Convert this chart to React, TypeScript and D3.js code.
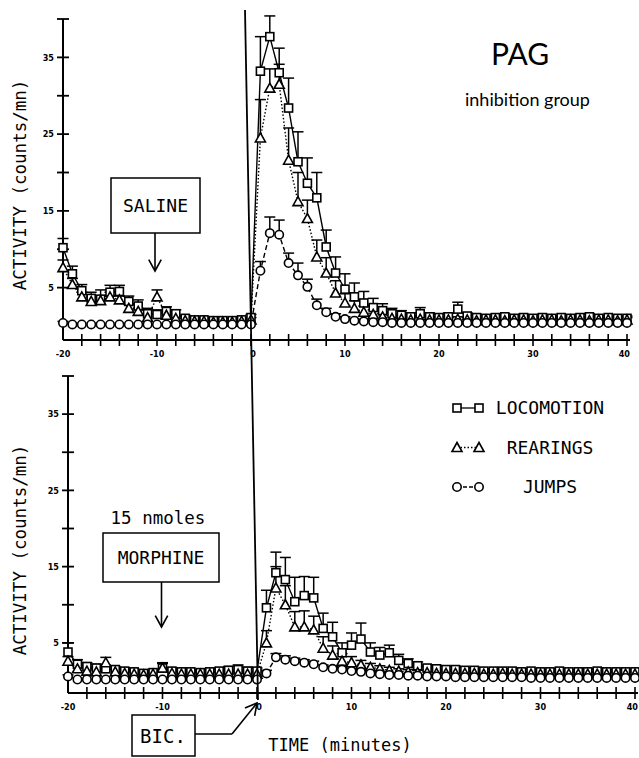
import * as d3 from 'd3'

// minutes relative to BIC injection
const minutes = [
  -20, -19, -18, -17, -16, -15, -14, -13, -12, -11, -10, -9, -8, -7, -6, -5, -4, -3, -2, -1, 0,
  1, 2, 3, 4, 5, 6, 7, 8, 9, 10, 11, 12, 13, 14, 15, 16, 17, 18, 19, 20,
  21, 22, 23, 24, 25, 26, 27, 28, 29, 30, 31, 32, 33, 34, 35, 36, 37, 38, 39, 40,
]

// ---- saline panel (top)
const salineLoco = [
  10.2, 6.8, 4.6, 3.6, 3.5, 4.4, 4.5, 3.2, 2.6, 1.6, 1.5, 1.9, 1.6, 1.0, 0.8, 0.8, 0.7, 0.7, 0.7, 0.8, 1.1,
  33.2, 37.7, 33.0, 28.4, 21.4, 18.6, 16.7, 10.3, 6.9, 4.8, 3.8, 3.0, 2.4, 2.0, 1.6, 1.4, 1.2, 1.6, 1.2, 1.1,
  1.2, 2.2, 1.3, 1.1, 1.0, 1.1, 1.2, 1.0, 1.1, 1.0, 1.1, 1.0, 1.1, 1.0, 1.1, 1.2, 1.0, 1.1, 1.0, 1.0,
]
const salineLocoErr = [
  1.2, 1.0, 0.8, 0.8, 1.2, 0.9, 0.8, 0.7, 0.8, 0.7, 0.6, 0.6, 0.5, 0.4, 0.3, 0.3, 0.3, 0.3, 0.3, 0.3, 0.4,
  4.5, 2.7, 3.2, 3.9, 3.9, 3.3, 3.3, 2.2, 2.1, 2.0, 1.8, 1.5, 1.2, 0.9, 0.7, 0.6, 0.5, 0.8, 0.5, 0.4,
  0.5, 0.9, 0.4, 0.4, 0.3, 0.4, 0.4, 0.3, 0.4, 0.3, 0.4, 0.3, 0.3, 0.3, 0.4, 0.4, 0.3, 0.3, 0.3, 0.3,
]
const salineRear = [
  7.6, 5.4, 3.8, 3.2, 3.3, 3.8, 3.4, 2.3, 1.9, 1.1, 3.8, 1.4, 1.0, 0.7, 0.6, 0.6, 0.5, 0.5, 0.5, 0.6, 0.8,
  24.5, 31.0, 31.5, 21.6, 16.2, 14.0, 9.0, 6.9, 4.3, 3.0, 2.3, 1.8, 1.5, 1.2, 1.0, 0.9, 0.8, 0.9, 0.8, 0.8,
  0.8, 0.9, 0.8, 0.7, 0.8, 0.8, 0.7, 0.8, 0.8, 0.7, 0.8, 0.8, 0.7, 0.8, 0.8, 0.7, 0.8, 0.8, 0.7, 0.8,
]
const salineRearErr = [
  1.0, 0.8, 0.6, 0.6, 0.6, 0.6, 0.5, 0.5, 0.4, 0.4, 0.9, 0.4, 0.3, 0.3, 0.2, 0.2, 0.2, 0.2, 0.2, 0.2, 0.3,
  5.0, 2.5, 2.6, 4.2, 3.8, 2.4, 2.2, 2.0, 1.6, 1.2, 1.0, 0.8, 0.6, 0.4, 0.4, 0.3, 0.3, 0.3, 0.3, 0.3,
  0.3, 0.3, 0.3, 0.3, 0.3, 0.3, 0.3, 0.3, 0.3, 0.3, 0.3, 0.3, 0.3, 0.3, 0.3, 0.3, 0.3, 0.3, 0.3, 0.3,
]
const salineJump = [
  0.4, 0.2, 0.2, 0.2, 0.2, 0.2, 0.2, 0.2, 0.2, 0.2, 0.2, 0.2, 0.2, 0.2, 0.2, 0.2, 0.2, 0.2, 0.2, 0.2, 0.2,
  7.2, 12.1, 11.9, 8.2, 6.6, 5.1, 2.7, 1.8, 1.2, 0.9, 0.7, 0.6, 0.5, 0.5, 0.4, 0.4, 0.4, 0.4, 0.4, 0.4,
  0.4, 0.4, 0.4, 0.4, 0.4, 0.4, 0.4, 0.4, 0.4, 0.4, 0.4, 0.4, 0.4, 0.4, 0.4, 0.4, 0.4, 0.4, 0.4, 0.4,
]
const salineJumpErr = [
  0.2, 0, 0, 0, 0, 0, 0, 0, 0, 0, 0, 0, 0, 0, 0, 0, 0, 0, 0, 0, 0,
  1.2, 2.1, 1.9, 1.3, 1.6, 1.0, 0.8, 0.5, 0.4, 0.3, 0.2, 0.2, 0.2, 0.2, 0, 0, 0, 0, 0, 0,
  0, 0, 0, 0, 0, 0, 0, 0, 0, 0, 0, 0, 0, 0, 0, 0, 0, 0, 0, 0,
]

// ---- morphine panel (bottom)
const morphLoco = [
  3.8, 2.2, 1.9, 1.7, 1.6, 1.5, 1.3, 1.2, 1.0, 1.1, 1.7, 1.3, 1.2, 1.2, 1.1, 1.2, 1.3, 1.4, 1.5, 1.3, 1.3,
  9.6, 14.2, 13.3, 10.4, 11.2, 10.9, 6.9, 5.8, 3.7, 4.7, 5.5, 3.8, 3.4, 3.7, 2.7, 2.3, 2.0, 1.7, 1.6, 1.5,
  1.5, 1.4, 1.4, 1.3, 1.3, 1.3, 1.3, 1.2, 1.3, 1.2, 1.2, 1.3, 1.2, 1.2, 1.2, 1.3, 1.2, 1.2, 1.2, 1.2,
]
const morphLocoErr = [
  1.2, 0.6, 0.5, 0.5, 0.4, 0.4, 0.4, 0.3, 0.3, 0.3, 0.6, 0.4, 0.3, 0.3, 0.3, 0.3, 0.4, 0.5, 0.6, 0.5, 0.4,
  2.3, 2.7, 2.9, 3.2, 2.5, 2.7, 2.0, 1.9, 1.3, 1.6, 2.1, 1.2, 1.0, 1.0, 0.8, 0.6, 0.5, 0.4, 0.4, 0.4,
  0.4, 0.4, 0.3, 0.3, 0.3, 0.3, 0.3, 0.3, 0.3, 0.3, 0.3, 0.3, 0.3, 0.3, 0.3, 0.3, 0.3, 0.3, 0.3, 0.3,
]
const morphRear = [
  2.6, 1.6, 1.3, 1.2, 2.4, 1.2, 1.0, 0.9, 0.8, 0.9, 1.7, 1.0, 0.9, 0.9, 0.9, 0.9, 0.9, 0.9, 0.9, 0.9, 0.9,
  5.0, 12.2, 10.0, 7.1, 7.1, 6.7, 4.3, 3.4, 2.6, 2.4, 2.1, 1.8, 1.6, 1.4, 1.3, 1.2, 1.1, 1.1, 1.0, 1.0,
  1.0, 1.0, 1.0, 0.9, 0.9, 1.0, 0.9, 0.9, 0.9, 0.9, 0.9, 0.9, 0.9, 0.9, 0.9, 0.9, 0.9, 0.9, 0.9, 0.9,
]
const morphRearErr = [
  0.6, 0.4, 0.4, 0.4, 0.7, 0.3, 0.3, 0.3, 0.3, 0.3, 0.7, 0.3, 0.3, 0.3, 0.3, 0.3, 0.3, 0.3, 0.3, 0.3, 0.3,
  1.6, 2.8, 2.5, 2.0, 2.1, 1.8, 1.5, 1.2, 1.0, 0.8, 0.6, 0.5, 0.4, 0.4, 0.3, 0.3, 0.3, 0.3, 0.3, 0.3,
  0.3, 0.3, 0.3, 0.3, 0.3, 0.3, 0.3, 0.3, 0.3, 0.3, 0.3, 0.3, 0.3, 0.3, 0.3, 0.3, 0.3, 0.3, 0.3, 0.3,
]
const morphJump = [
  0.6, 0.2, 0.2, 0.2, 0.2, 0.2, 0.2, 0.2, 0.2, 0.2, 0.2, 0.2, 0.2, 0.2, 0.2, 0.2, 0.2, 0.2, 0.2, 0.2, 0.2,
  1.0, 3.1, 2.8, 2.6, 2.4, 2.2, 1.8, 1.6, 1.5, 1.3, 1.2, 1.0, 0.9, 0.8, 0.8, 0.7, 0.7, 0.6, 0.6, 0.6,
  0.5, 0.5, 0.5, 0.5, 0.5, 0.5, 0.5, 0.5, 0.4, 0.4, 0.4, 0.4, 0.4, 0.4, 0.4, 0.4, 0.4, 0.4, 0.4, 0.4,
]
const morphJumpErr = [
  0.2, 0, 0, 0, 0, 0, 0, 0, 0, 0, 0, 0, 0, 0, 0, 0, 0, 0, 0, 0, 0,
  0.4, 0.5, 0.5, 0.4, 0.4, 0.4, 0.3, 0.3, 0.3, 0.3, 0.2, 0.2, 0.2, 0, 0, 0, 0, 0, 0, 0,
  0, 0, 0, 0, 0, 0, 0, 0, 0, 0, 0, 0, 0, 0, 0, 0, 0, 0, 0, 0,
]

const xTickLabels = [-20, -10, 0, 10, 20, 30, 40]
const yTickLabels = [35, 25, 15, 5]
const legendItems = ['LOCOMOTION', 'REARINGS', 'JUMPS']

const plotter = "'DejaVu Sans Mono', monospace"
const tickFont = "'DejaVu Sans Condensed', 'DejaVu Sans', sans-serif"

type Kind = 'square' | 'triangle' | 'circle'

function Marker({ kind, x, y }: { kind: Kind; x: number; y: number }) {
  if (kind === 'square') return <rect x={x - 4} y={y - 4} width={8} height={8} fill="#fff" stroke="#000" strokeWidth={1.6} />
  if (kind === 'triangle')
    return <path d={`M${x},${y - 5}L${x + 5},${y + 4}L${x - 5},${y + 4}Z`} fill="#fff" stroke="#000" strokeWidth={1.6} />
  return <circle cx={x} cy={y} r={4.2} fill="#fff" stroke="#000" strokeWidth={1.6} />
}

interface PanelProps {
  xRange: [number, number]
  yRange: [number, number]
  axisY: number
  series: { values: number[]; errs: number[]; kind: Kind; dash: string }[]
}

function Panel({ xRange, yRange, axisY, series }: PanelProps) {
  const x = d3.scaleLinear().domain([-20, 40]).range(xRange)
  const y = d3.scaleLinear().domain([0, 40]).range(yRange)
  const x0 = x(-20)
  const line = d3.line<number>().x((_, i) => x(minutes[i])).y(d => y(d))

  return (
    <g>
      {/* axes */}
      <line x1={x0} x2={x0} y1={y(40)} y2={axisY} stroke="#000" strokeWidth={2} />
      <line x1={x0} x2={x(40) + 3} y1={axisY} y2={axisY} stroke="#000" strokeWidth={2} />
      {d3.range(5, 41, 5).map(v => (
        <line key={v} x1={x0 - 6} x2={x0 + 6} y1={y(v)} y2={y(v)} stroke="#000" strokeWidth={1.8} />
      ))}
      {yTickLabels.map(v => (
        <text key={v} x={x0 - 9} y={y(v)} dy="0.35em" textAnchor="end" fontFamily={tickFont} fontWeight="bold" fontSize={9}>
          {v}
        </text>
      ))}
      {d3.range(-18, 41, 2).map(t => (
        <line key={t} x1={x(t)} x2={x(t)} y1={axisY - 6} y2={axisY + 6} stroke="#000" strokeWidth={1.6} />
      ))}
      {xTickLabels.map(t => (
        <text
          key={t}
          x={t === 40 ? x(t) + 3 : x(t) + (t === 0 ? 2 : 0)}
          y={axisY + 17}
          textAnchor={t === 40 ? 'end' : 'middle'}
          fontFamily={tickFont}
          fontWeight="bold"
          fontSize={9}
        >
          {t}
        </text>
      ))}

      {/* series */}
      {series.map((s, si) => (
        <path key={'l' + si} d={line(s.values) ?? ''} fill="none" stroke="#000" strokeWidth={1.4} strokeDasharray={s.dash} />
      ))}
      {series.map((s, si) => (
        <g key={'e' + si}>
          {s.values.map((v, i) =>
            s.errs[i] > 0 ? (
              <g key={i}>
                <line x1={x(minutes[i])} x2={x(minutes[i])} y1={y(v)} y2={y(v + s.errs[i])} stroke="#000" strokeWidth={1.5} />
                <line x1={x(minutes[i]) - 5.5} x2={x(minutes[i]) + 5.5} y1={y(v + s.errs[i])} y2={y(v + s.errs[i])} stroke="#000" strokeWidth={1.5} />
              </g>
            ) : null
          )}
        </g>
      ))}
      {series.map((s, si) => (
        <g key={'m' + si}>
          {s.values.map((v, i) => (
            <Marker key={i} kind={s.kind} x={x(minutes[i])} y={y(v)} />
          ))}
        </g>
      ))}
    </g>
  )
}

function Arrow({ x1, y1, x2, y2 }: { x1: number; y1: number; x2: number; y2: number }) {
  const a = Math.atan2(y2 - y1, x2 - x1)
  const L = 13
  const s = 0.5
  return (
    <g stroke="#000" strokeWidth={1.6} fill="none">
      <line x1={x1} y1={y1} x2={x2} y2={y2} />
      <polyline
        points={`${x2 - L * Math.cos(a - s)},${y2 - L * Math.sin(a - s)} ${x2},${y2} ${x2 - L * Math.cos(a + s)},${y2 - L * Math.sin(a + s)}`}
      />
    </g>
  )
}

export default function App() {
  const xTop = d3.scaleLinear().domain([-20, 40]).range([63, 627])
  const xBot = d3.scaleLinear().domain([-20, 40]).range([68, 635])

  const topSeries = [
    { values: salineLoco, errs: salineLocoErr, kind: 'square' as Kind, dash: 'none' },
    { values: salineRear, errs: salineRearErr, kind: 'triangle' as Kind, dash: '1.5 2' },
    { values: salineJump, errs: salineJumpErr, kind: 'circle' as Kind, dash: '5 3' },
  ]
  const botSeries = [
    { values: morphLoco, errs: morphLocoErr, kind: 'square' as Kind, dash: 'none' },
    { values: morphRear, errs: morphRearErr, kind: 'triangle' as Kind, dash: '1.5 2' },
    { values: morphJump, errs: morphJumpErr, kind: 'circle' as Kind, dash: '5 3' },
  ]
  const legendKinds: Kind[] = ['square', 'triangle', 'circle']
  const legendDash = ['none', '1.5 2', '4 2']

  return (
    <div style={{ position: 'absolute', left: 0, top: 0 }}>
      <svg width={639} height={758} style={{ display: 'block', background: '#fff' }}>
        <Panel xRange={[63, 627]} yRange={[326, 19]} axisY={340} series={topSeries} />
        <Panel xRange={[68, 635]} yRange={[681, 376]} axisY={693} series={botSeries} />

        {/* BIC injection line */}
        <line x1={xTop(0) - 6} y1={10} x2={xBot(0) + 1} y2={700} stroke="#000" strokeWidth={1.8} />

        {/* y labels */}
        {[185, 550].map(cy => (
          <text key={cy} transform={`translate(26,${cy}) rotate(-90)`} textAnchor="middle" fontFamily={plotter} fontSize={17.5}>
            ACTIVITY (counts/mn)
          </text>
        ))}

        {/* title */}
        <text x={520} y={65} textAnchor="middle" fontFamily="Lato, 'Noto Sans', sans-serif" fontSize={30}>PAG</text>
        <text x={465} y={106} fontFamily="Lato, 'Noto Sans', sans-serif" fontSize={18}>inhibition  group</text>

        {/* saline annotation */}
        <rect x={111} y={178} width={89} height={55} fill="#fff" stroke="#000" strokeWidth={1.5} />
        <text x={155.5} y={206} dy="0.35em" textAnchor="middle" fontFamily={plotter} fontSize={18}>SALINE</text>
        <Arrow x1={xTop(-10) - 2} y1={233} x2={xTop(-10) - 2} y2={271} />

        {/* morphine annotation */}
        <text x={158} y={518} dy="0.35em" textAnchor="middle" fontFamily={plotter} fontSize={17.5}>15 nmoles</text>
        <rect x={103} y={533} width={116} height={49} fill="#fff" stroke="#000" strokeWidth={1.5} />
        <text x={161} y={558} dy="0.35em" textAnchor="middle" fontFamily={plotter} fontSize={18}>MORPHINE</text>
        <Arrow x1={xBot(-10) - 1} y1={582} x2={xBot(-10) - 1} y2={627} />

        {/* legend */}
        {legendItems.map((name, i) => {
          const ly = 408 + i * 39.5
          return (
            <g key={name}>
              <line x1={457} x2={479} y1={ly} y2={ly} stroke="#000" strokeWidth={1.3} strokeDasharray={legendDash[i]} />
              <Marker kind={legendKinds[i]} x={457} y={ly} />
              <Marker kind={legendKinds[i]} x={479} y={ly} />
              <text x={550} y={ly} dy="0.35em" textAnchor="middle" fontFamily={plotter} fontSize={18}>{name}</text>
            </g>
          )
        })}

        {/* BIC annotation */}
        <rect x={132} y={715} width={63} height={41} fill="#fff" stroke="#000" strokeWidth={1.5} />
        <text x={163} y={736} dy="0.35em" textAnchor="middle" fontFamily={plotter} fontSize={19}>BIC.</text>
        <line x1={195} y1={734} x2={232} y2={734} stroke="#000" strokeWidth={1.6} />
        <Arrow x1={232} y1={734} x2={xBot(0)} y2={703} />

        <text x={340} y={751} textAnchor="middle" fontFamily={plotter} fontSize={17}>TIME (minutes)</text>
      </svg>
    </div>
  )
}
